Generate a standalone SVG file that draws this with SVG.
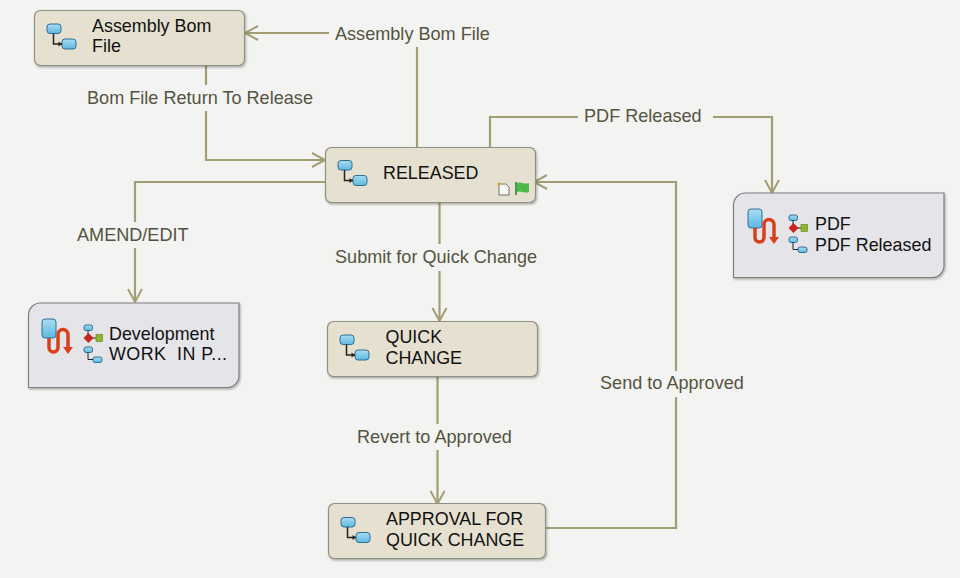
<svg xmlns="http://www.w3.org/2000/svg" width="960" height="578" viewBox="0 0 960 578">
<style>
text{font-family:"Liberation Sans",Arial,sans-serif;font-size:17.9px}
.n{fill:#111}
.l{fill:#54533f;font-size:18.1px}
.c{fill:none;stroke:#a39d74;stroke-width:2.2}
.a{fill:none;stroke:#a39d74;stroke-width:2}
.s{fill:#e5e0cf;stroke:#8f8f82;stroke-width:1.2;filter:url(#sh)}
.p{fill:#e5e4e9;stroke:#7f7f7f;stroke-width:1.2;filter:url(#sh)}
.b{fill:url(#blue);stroke:#2f6f8f;stroke-width:1}
.t{fill:none;stroke:#222;stroke-width:1.5}
.r{fill:none;stroke:#d8401c;stroke-width:3.500}
</style>
<defs>
<filter id="sh" x="-5%" y="-10%" width="110%" height="125%"><feDropShadow dx="1" dy="1.500" stdDeviation="1" flood-color="#000" flood-opacity=".3"/></filter>
<linearGradient id="blue" x1="0" y1="0" x2="0" y2="1"><stop offset="0" stop-color="#a8dcf2"/><stop offset="1" stop-color="#5fb8e2"/></linearGradient>
<g id="state">
<rect class="b" x="0" y="0" width="14" height="9.500" rx="3"/>
<rect class="b" x="15" y="15" width="14" height="10" rx="3"/>
<path class="t" d="M6.500 9.500V20H15"/>
<path fill="#222" d="M11.500 17.500l3.500 2.500l-3.500 2.500z"/>
</g>
<g id="small">
<rect class="b" x="0" y="0" width="8.500" height="5.500" rx="2" stroke-width=".8"/>
<rect class="b" x="9" y="10" width="9" height="5.500" rx="2" stroke-width=".8"/>
<path fill="none" stroke="#222" d="M4 5.500V12.500H9"/>
</g>
<g id="dec">
<rect class="b" x="0" y="0" width="8.500" height="5.500" rx="2" stroke-width=".8"/>
<path fill="none" stroke="#222" d="M4 5.500V13H12"/>
<path fill="#c8251c" d="M4.500 8l5 5-5 5-5-5z"/>
<rect x="12" y="9.500" width="6.500" height="7" fill="#8fb52c" stroke="#5f7f1a" stroke-width=".6"/>
</g>
<g id="flow">
<rect class="b" x="0" y="0" width="14" height="19" rx="3"/>
<path class="r" d="M7 19V28.500a4.500 4.500 0 0 0 9 0V15.500a5 5 0 0 1 10 0V29"/>
<path fill="#d8401c" d="M21 28h10l-5 7z"/>
</g>
</defs>
<rect width="960" height="578" fill="#f3f3f2"/>
<g id="connectors">
<path class="c" d="M417 147V33H245"/><path class="a" d="M258 26L245 33L258 40"/>
<path class="c" d="M206 66V160H325"/><path class="a" d="M312 153L325 160L312 167"/>
<path class="c" d="M325 182H135V302"/><path class="a" d="M128 289L135 302L142 289"/>
<path class="c" d="M439.500 203V321"/><path class="a" d="M432.500 308L439.500 321L446.500 308"/>
<path class="c" d="M437.500 377V504"/><path class="a" d="M430.500 491L437.500 504L444.500 491"/>
<path class="c" d="M546 528H676V182H534"/><path class="a" d="M547 175L534 182L547 189"/>
<path class="c" d="M490 147V117H772V193"/><path class="a" d="M765 180L772 193L779 180"/>
</g>
<g id="connector-labels">
<rect x="329" y="20" width="167" height="27" fill="#f3f3f2"/>
<text class="l" x="335" y="39.500">Assembly Bom File</text>
<rect x="82" y="85" width="236" height="26" fill="#f3f3f2"/>
<text class="l" x="87" y="104">Bom File Return To Release</text>
<rect x="578" y="105" width="135" height="24" fill="#f3f3f2"/>
<text class="l" x="584" y="122">PDF Released</text>
<rect x="72" y="222" width="121" height="26" fill="#f3f3f2"/>
<text class="l" x="77" y="240.500">AMEND/EDIT</text>
<rect x="330" y="244" width="210" height="27" fill="#f3f3f2"/>
<text class="l" x="335" y="263">Submit for Quick Change</text>
<rect x="352" y="424" width="164" height="26" fill="#f3f3f2"/>
<text class="l" x="357" y="443">Revert to Approved</text>
<rect x="595" y="371" width="154" height="26" fill="#f3f3f2"/>
<text class="l" x="600" y="389">Send to Approved</text>
</g>
<g id="node-assembly">
<rect class="s" x="34.500" y="10.500" width="210" height="55" rx="6"/>
<use href="#state" x="47" y="24"/>
<text class="n" x="92" y="32">Assembly Bom</text>
<text class="n" x="92" y="52">File</text>
</g>
<g id="node-released">
<rect class="s" x="325.500" y="147.500" width="210" height="55" rx="6"/>
<use href="#state" x="338" y="160.500"/>
<text class="n" x="383" y="179">RELEASED</text>
<path d="M499 184h7l3 3v8h-10z" fill="#f7f7f0" stroke="#555" stroke-width=".8"/>
<circle cx="499" cy="184" r="1.500" fill="#e0a030"/>
<path d="M516 182v13" stroke="#1e7a2a" stroke-width="1.500"/>
<path d="M517 183c4-2 7 2 12 0v9c-5 2-8-2-12 0z" fill="#4cb848"/>
</g>
<g id="node-quick-change">
<rect class="s" x="327.500" y="321.500" width="210" height="55" rx="6"/>
<use href="#state" x="340" y="335"/>
<text class="n" x="385.500" y="343">QUICK</text>
<text class="n" x="385.500" y="363.500">CHANGE</text>
</g>
<g id="node-approval">
<rect class="s" x="328.500" y="503.500" width="217" height="55" rx="6"/>
<use href="#state" x="341" y="517.500"/>
<text class="n" x="386" y="524.500">APPROVAL FOR</text>
<text class="n" x="386" y="545.500">QUICK CHANGE</text>
</g>
<g id="node-pdf">
<path class="p" d="M733.500 277.500V205a12 12 0 0 1 12-12H944V265a12 12 0 0 1-12 12.500z"/>
<use href="#flow" x="748" y="209"/>
<use href="#dec" x="789" y="215"/>
<use href="#small" x="789" y="237"/>
<text class="n" x="815" y="230">PDF</text>
<text class="n" x="815" y="251">PDF Released</text>
</g>
<g id="node-development">
<path class="p" d="M28.500 387.500V315a12 12 0 0 1 12-12H239V375a12 12 0 0 1-12 12.500z"/>
<use href="#flow" x="42" y="319"/>
<use href="#dec" x="84" y="325"/>
<use href="#small" x="84" y="347"/>
<text class="n" x="109" y="340">Development</text>
<text class="n" x="109" y="359.500" xml:space="preserve" textLength="118" lengthAdjust="spacing">WORK  IN P...</text>
</g>
</svg>
